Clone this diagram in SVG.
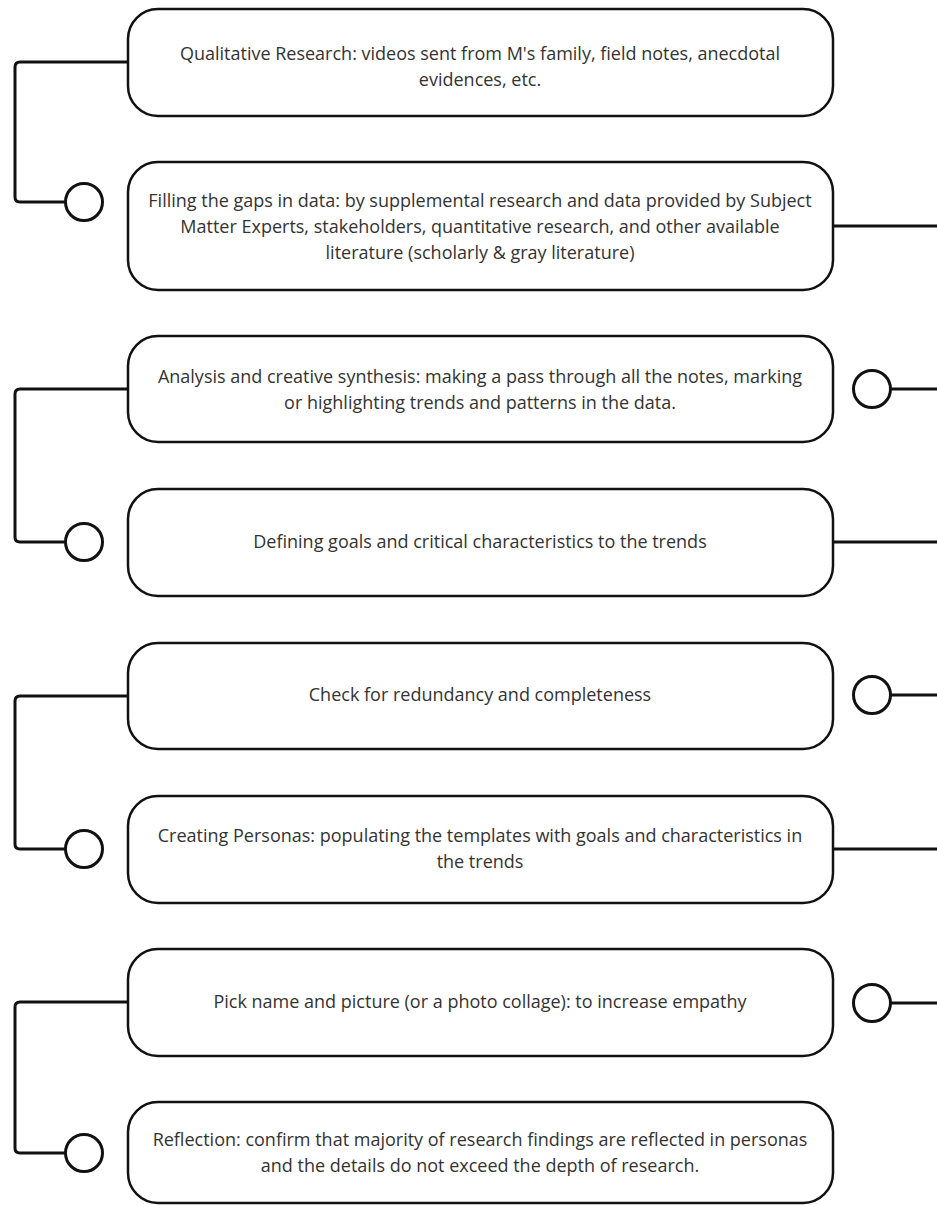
<svg xmlns="http://www.w3.org/2000/svg" width="937" height="1205" viewBox="0 0 937 1205">
  <style>
    .box { fill: #ffffff; stroke: #111111; stroke-width: 2.5; }
    .wire { fill: none; stroke: #111111; stroke-width: 3; stroke-linejoin: round; }
    .dot { fill: #ffffff; stroke: #111111; stroke-width: 3; }
    .label { font-family: "Open Sans", "Noto Sans", sans-serif; font-size: 18px; fill: #333333; text-anchor: middle; }
  </style>
  <rect width="937" height="1205" fill="#ffffff"/>

  <!-- connectors -->
  <g id="connectors">
    <!-- left loops -->
    <path class="wire" d="M128 62 H20 Q15 62 15 67 V197 Q15 202 20 202 H65"/>
    <path class="wire" d="M128 389 H20 Q15 389 15 394 V537 Q15 542 20 542 H65"/>
    <path class="wire" d="M128 696 H20 Q15 696 15 701 V844 Q15 849 20 849 H65"/>
    <path class="wire" d="M128 1002 H20 Q15 1002 15 1007 V1148 Q15 1153 20 1153 H65"/>
    <circle class="dot" cx="84" cy="202" r="18.5"/>
    <circle class="dot" cx="84" cy="542" r="18.5"/>
    <circle class="dot" cx="84" cy="849" r="18.5"/>
    <circle class="dot" cx="84" cy="1153" r="18.5"/>
    <!-- right exits -->
    <path class="wire" d="M833 226 H940"/>
    <path class="wire" d="M833 542 H940"/>
    <path class="wire" d="M833 849 H940"/>
    <path class="wire" d="M891 389 H940"/>
    <path class="wire" d="M891 695 H940"/>
    <path class="wire" d="M891 1003 H940"/>
    <circle class="dot" cx="872" cy="389" r="18.5"/>
    <circle class="dot" cx="872" cy="695" r="18.5"/>
    <circle class="dot" cx="872" cy="1003" r="18.5"/>
  </g>

  <g id="node1">
    <rect class="box" x="128" y="9" width="705" height="107" rx="30"/>
    <text class="label" x="480" y="60">Qualitative Research: videos sent from M's family, field notes, anecdotal</text>
    <text class="label" x="480" y="86">evidences, etc.</text>
  </g>
  <g id="node2">
    <rect class="box" x="128" y="162" width="705" height="128" rx="30"/>
    <text class="label" x="480" y="207">Filling the gaps in data: by supplemental research and data provided by Subject</text>
    <text class="label" x="480" y="233">Matter Experts, stakeholders, quantitative research, and other available</text>
    <text class="label" x="480" y="259">literature (scholarly &amp; gray literature)</text>
  </g>
  <g id="node3">
    <rect class="box" x="128" y="336" width="705" height="106" rx="30"/>
    <text class="label" x="480" y="383">Analysis and creative synthesis: making a pass through all the notes, marking</text>
    <text class="label" x="480" y="409">or highlighting trends and patterns in the data.</text>
  </g>
  <g id="node4">
    <rect class="box" x="128" y="489" width="705" height="107" rx="30"/>
    <text class="label" x="480" y="548">Defining goals and critical characteristics to the trends</text>
  </g>
  <g id="node5">
    <rect class="box" x="128" y="643" width="705" height="106" rx="30"/>
    <text class="label" x="480" y="701">Check for redundancy and completeness</text>
  </g>
  <g id="node6">
    <rect class="box" x="128" y="796" width="705" height="107" rx="30"/>
    <text class="label" x="480" y="842">Creating Personas: populating the templates with goals and characteristics in</text>
    <text class="label" x="480" y="868">the trends</text>
  </g>
  <g id="node7">
    <rect class="box" x="128" y="949" width="705" height="107" rx="30"/>
    <text class="label" x="480" y="1008">Pick name and picture (or a photo collage): to increase empathy</text>
  </g>
  <g id="node8">
    <rect class="box" x="128" y="1102" width="705" height="101" rx="30"/>
    <text class="label" x="480" y="1146">Reflection: confirm that majority of research findings are reflected in personas</text>
    <text class="label" x="480" y="1172">and the details do not exceed the depth of research.</text>
  </g>
</svg>
